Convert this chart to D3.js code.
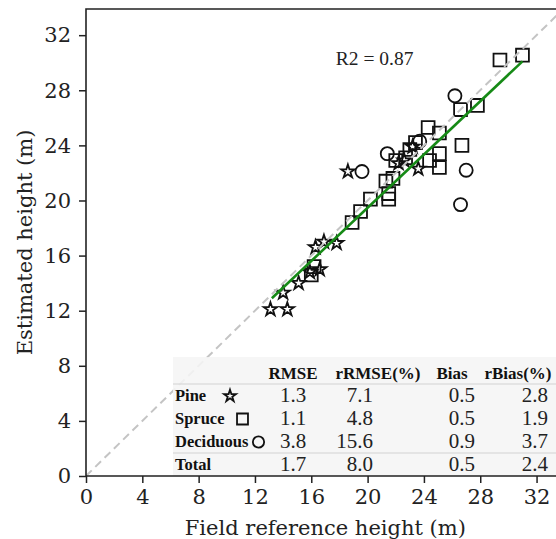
<!DOCTYPE html>
<html>
<head>
<meta charset="utf-8">
<script src="https://cdn.jsdelivr.net/npm/d3@7"></script>
<style>
  html, body { margin: 0; padding: 0; background: #fff; }
  svg { display: block; }
</style>
</head>
<body>
<svg id="chart" width="556" height="539"></svg>
<script>
// Field reference height (x) vs estimated height (y), metres
const pine = [
  [13.1, 12.1], [14.3, 12.1], [14.0, 13.3], [15.1, 14.0], [15.9, 14.8],
  [16.6, 15.0], [16.3, 16.6], [16.9, 17.0], [17.8, 16.9], [18.6, 22.1],
  [22.2, 22.7], [23.6, 22.3], [23.2, 23.9], [22.6, 22.9]
];
const spruce = [
  [16.0, 14.6], [16.2, 15.2], [18.9, 18.4], [19.5, 19.2], [20.2, 20.1],
  [21.5, 20.1], [21.5, 20.5], [21.3, 21.4], [21.8, 21.6], [22.0, 22.9],
  [22.7, 23.1], [23.0, 23.7], [23.4, 24.2], [24.3, 25.3], [25.1, 24.9],
  [25.1, 23.4], [25.1, 22.4], [24.4, 22.9], [26.7, 24.0], [26.6, 26.6],
  [27.8, 26.9], [29.4, 30.2], [31.0, 30.55]
];
const deciduous = [
  [26.2, 27.6], [27.0, 22.2], [26.6, 19.7], [19.6, 22.1], [21.4, 23.4],
  [23.7, 24.3]
];

// Least-squares fit segment (start and end points)
const fitStart = [13.2, 12.9];
const fitEnd = [31.0, 30.1];
const r2Label = "R2 = 0.87";

// Accuracy table
const tableHeaders = ["RMSE", "rRMSE(%)", "Bias", "rBias(%)"];
const tableGroups = ["Pine", "Spruce", "Deciduous", "Total"];
const rmse = ["1.3", "1.1", "3.8", "1.7"];
const rrmse = ["7.1", "4.8", "15.6", "8.0"];
const bias = ["0.5", "0.5", "0.9", "0.5"];
const rbias = ["2.8", "1.9", "3.7", "2.4"];

const axisTicks = [0, 4, 8, 12, 16, 20, 24, 28, 32];

const svg = d3.select("#chart");
const plotLeft = 86, plotTop = 9, plotBottom = 476;
const x = d3.scaleLinear().domain([0, 34]).range([plotLeft, plotLeft + 34 * 14.08]);
const y = d3.scaleLinear().domain([0, 33.9]).range([plotBottom, plotTop]);

svg.append("defs").append("clipPath").attr("id", "plotClip")
  .append("rect").attr("x", plotLeft).attr("y", plotTop)
  .attr("width", x(34) - plotLeft).attr("height", plotBottom - plotTop);

const plot = svg.append("g").attr("clip-path", "url(#plotClip)");

const symbolFor = {
  pine: d3.symbol().type(d3.symbolStar).size(56),
  spruce: d3.symbol().type(d3.symbolSquare).size(165),
  deciduous: d3.symbol().type(d3.symbolCircle).size(135)
};

function drawGroup(data, key) {
  plot.append("g").selectAll("path").data(data).join("path")
    .attr("transform", d => `translate(${x(d[0])},${y(d[1])})`)
    .attr("d", symbolFor[key]())
    .attr("fill", "none")
    .attr("stroke", "#111")
    .attr("stroke-width", 1.8);
}
drawGroup(spruce, "spruce");
drawGroup(deciduous, "deciduous");
drawGroup(pine, "pine");

// 1:1 reference line
plot.append("line")
  .attr("x1", x(0)).attr("y1", y(0)).attr("x2", x(34)).attr("y2", y(34))
  .attr("stroke", "#c4c4c4").attr("stroke-width", 2)
  .attr("stroke-dasharray", "8,5");

// Fitted line
plot.append("line")
  .attr("x1", x(fitStart[0])).attr("y1", y(fitStart[1]))
  .attr("x2", x(fitEnd[0])).attr("y2", y(fitEnd[1]))
  .attr("stroke", "#168a16").attr("stroke-width", 2.6);

svg.append("text")
  .attr("x", x(20.5)).attr("y", y(29.8))
  .attr("text-anchor", "middle")
  .attr("font-family", "Liberation Serif, serif")
  .attr("font-size", 19.5).attr("fill", "#222")
  .text(r2Label);

// Table overlay
const table = svg.append("g");
table.append("rect")
  .attr("x", 173).attr("y", 357).attr("width", 400).attr("height", plotBottom - 357)
  .attr("fill", "#f5f5f5").attr("opacity", 0.88);
[384, 453].forEach(ly => table.append("line")
  .attr("x1", 173).attr("x2", 556).attr("y1", ly).attr("y2", ly)
  .attr("stroke", "#d2d2d2").attr("stroke-width", 1));

const headerX = [293, 378, 452, 518];
table.selectAll("text.hdr").data(tableHeaders).join("text")
  .attr("class", "hdr")
  .attr("x", (d, i) => headerX[i]).attr("y", 379)
  .attr("text-anchor", "middle")
  .attr("font-family", "Liberation Serif, serif")
  .attr("font-weight", "bold").attr("font-size", 17).attr("fill", "#111")
  .text(d => d);

const rowY = [401, 424, 447, 470];
table.selectAll("text.grp").data(tableGroups).join("text")
  .attr("class", "grp")
  .attr("x", 175).attr("y", (d, i) => rowY[i])
  .attr("font-family", "Liberation Serif, serif")
  .attr("font-weight", "bold").attr("font-size", 16.5).attr("fill", "#111")
  .text(d => d);

const legendMarks = [
  { key: "pine", x: 230, size: 44 },
  { key: "spruce", x: 242.5, size: 120 },
  { key: "deciduous", x: 258.5, size: 100 }
];
const legendTypes = { pine: d3.symbolStar, spruce: d3.symbolSquare, deciduous: d3.symbolCircle };
legendMarks.forEach((m, i) => {
  table.append("path")
    .attr("transform", `translate(${m.x},${rowY[i] - 5})`)
    .attr("d", d3.symbol().type(legendTypes[m.key]).size(m.size)())
    .attr("fill", "none").attr("stroke", "#111").attr("stroke-width", 1.8);
});

const valueCols = [
  { vals: rmse, x: 293, anchor: "middle" },
  { vals: rrmse, x: 373, anchor: "end" },
  { vals: bias, x: 475, anchor: "end" },
  { vals: rbias, x: 548, anchor: "end" }
];
valueCols.forEach(col => {
  table.append("g").selectAll("text").data(col.vals).join("text")
    .attr("x", col.x).attr("y", (d, i) => rowY[i] + 1)
    .attr("text-anchor", col.anchor)
    .attr("font-family", "Liberation Serif, serif")
    .attr("font-size", 21).attr("fill", "#222")
    .text(d => d);
});

// Axes
const xAxis = d3.axisBottom(x).tickValues(axisTicks).tickSize(7).tickPadding(6);
const yAxis = d3.axisLeft(y).tickValues(axisTicks).tickSize(7).tickPadding(8);

const gx = svg.append("g").attr("transform", `translate(0,${plotBottom})`).call(xAxis);
const gy = svg.append("g").attr("transform", `translate(${plotLeft},0)`).call(yAxis);
[gx, gy].forEach(g => {
  g.select(".domain").remove();
  g.selectAll(".tick line").attr("stroke", "#222").attr("stroke-width", 1.5);
  g.selectAll(".tick text")
    .attr("font-family", "DejaVu Serif, serif")
    .attr("font-size", 21).attr("fill", "#222");
});

// Frame
svg.append("path")
  .attr("d", `M${plotLeft},${plotBottom}V${plotTop}H${x(34)}M${plotLeft},${plotBottom}H${x(34)}`)
  .attr("fill", "none").attr("stroke", "#222").attr("stroke-width", 1.6);

svg.append("text")
  .attr("x", (plotLeft + x(34)) / 2).attr("y", 535)
  .attr("text-anchor", "middle")
  .attr("font-family", "DejaVu Serif, serif")
  .attr("font-size", 21).attr("fill", "#222")
  .text("Field reference height (m)");

svg.append("text")
  .attr("transform", `translate(32,${(plotTop + plotBottom) / 2}) rotate(-90)`)
  .attr("text-anchor", "middle")
  .attr("font-family", "DejaVu Serif, serif")
  .attr("font-size", 21).attr("fill", "#222")
  .text("Estimated height (m)");
</script>
</body>
</html>
